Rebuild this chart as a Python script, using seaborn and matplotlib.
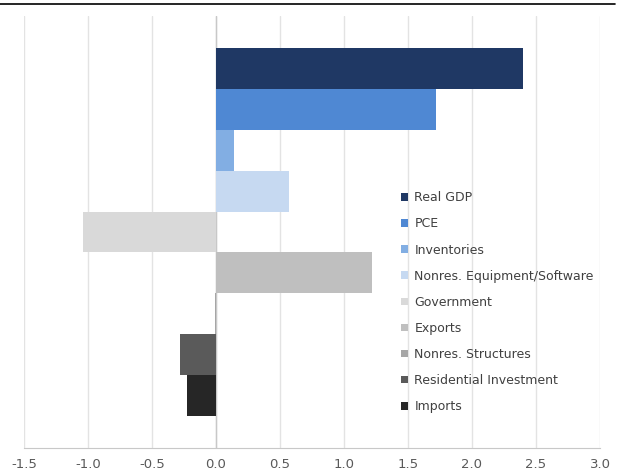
import matplotlib
matplotlib.use("Agg")
import matplotlib.pyplot as plt
import seaborn as sns
import pandas as pd
from matplotlib.lines import Line2D

# ── data ──────────────────────────────────────
components = ["Real GDP", "PCE", "Inventories", "Nonres. Equipment/Software",
              "Government", "Exports", "Nonres. Structures",
              "Residential Investment", "Imports"]
contribution = [2.40, 1.72, 0.14, 0.57, -1.04, 1.22, -0.01, -0.28, -0.23]
bar_colors = ["#1f3864", "#4f88d3", "#82aee3", "#c6d9f1", "#d9d9d9",
              "#bfbfbf", "#a6a6a6", "#5a5a5a", "#262626"]
x_ticks = [-1.5, -1.0, -0.5, 0.0, 0.5, 1.0, 1.5, 2.0, 2.5, 3.0]

df = pd.DataFrame({"component": components, "value": contribution, "group": ""})

sns.set_style("white")
fig = plt.figure(figsize=(6.29, 4.76), dpi=100)
ax = fig.add_axes([24 / 629, 28 / 476, 576 / 629, 432 / 476])

ax.set_axisbelow(True)
ax.grid(axis="x", color="#e3e3e3", linewidth=1)
ax.axvline(0, color="#c8c8c8", linewidth=1, zorder=1)

sns.barplot(data=df, x="value", y="group", hue="component", hue_order=components,
            palette=bar_colors, orient="h", width=0.85, dodge=True,
            saturation=1, linewidth=0, ax=ax, zorder=2)

ax.set_xlim(-1.5, 3.0)
ax.set_ylim(0.5, -0.5)
ax.set_xticks(x_ticks)
ax.set_xticklabels([f"{t:.1f}" for t in x_ticks])
ax.tick_params(axis="x", colors="#595959", labelsize=9.5, length=0, pad=7)
ax.set_yticks([])
ax.set_xlabel("")
ax.set_ylabel("")
for side in ["top", "right", "left"]:
    ax.spines[side].set_visible(False)
ax.spines["bottom"].set_color("#c8c8c8")

sns.move_legend(ax, "upper left", bbox_to_anchor=(390 / 629, 1 - 180 / 476),
                bbox_transform=fig.transFigure, frameon=False, title=None,
                fontsize=9, labelspacing=1.05, handlelength=0.55, handleheight=0.55,
                handletextpad=0.5, labelcolor="#404040")

# cropped header rule at the top
fig.add_artist(Line2D([0, 615 / 629], [1 - 4 / 476, 1 - 4 / 476],
                      color="black", linewidth=1.2, transform=fig.transFigure))

fig.savefig("out.png", dpi=100)
